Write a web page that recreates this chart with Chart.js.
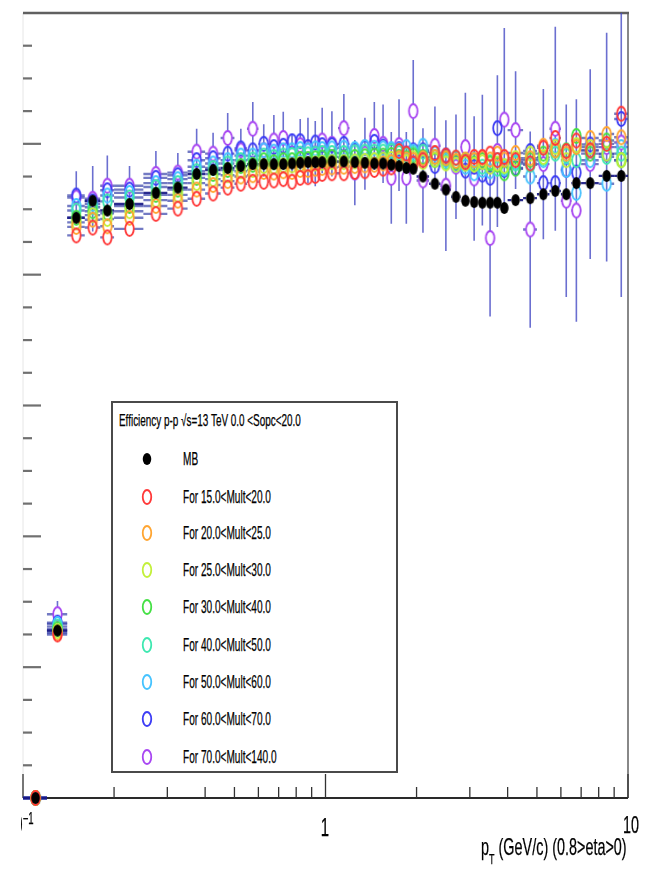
<!DOCTYPE html>
<html>
<head>
<meta charset="utf-8">
<script src="https://cdn.jsdelivr.net/npm/chart.js@4.4.1/dist/chart.umd.min.js"></script>
<style>
  body { margin: 0; background: #fff; }
  #wrap { position: relative; width: 647px; height: 877px; overflow: hidden; }
  #eff { position: absolute; left: 0; top: 0; }
  .txt {
    position: absolute;
    font-family: "Liberation Sans", Arial, Helvetica, sans-serif;
    color: #000;
    white-space: nowrap;
    transform: scaleX(0.6);
    -webkit-text-stroke: 0.25px #000;
  }
  .legend {
    position: absolute;
    left: 111px; top: 401px; width: 287px; height: 372px;
    box-sizing: border-box;
    border: 2px solid #4a4a4a;
    background: #fff;
  }
  .legend svg { position: absolute; }
</style>
</head>
<body>
<div id="wrap">
  <canvas id="eff" width="647" height="877"></canvas>

  <div class="legend" id="legend">
    <span class="txt" style="left:6px; top:9px; font-size:16px; transform:scaleX(0.62); transform-origin:0 50%;">Efficiency p-p &#8730;s=13 TeV 0.0 &lt;Sopc&lt;20.0</span>
  </div>

  <!-- x axis labels -->
  <div style="position:absolute; left:21px; top:808px; width:24px; height:40px; overflow:hidden;">
    <span class="txt" style="left:-15px; top:2px; font-size:25px; transform-origin:0 50%;">10<sup style="font-size:16px; vertical-align:9px;">&#8722;1</sup></span>
  </div>
  <span class="txt" style="left:315px; top:813px; width:20px; text-align:center; font-size:25px; transform-origin:50% 50%;">1</span>
  <span class="txt" style="left:611px; top:811px; width:40px; text-align:center; font-size:24px; transform-origin:50% 50%;">10</span>
  <span class="txt" style="right:20px; top:833px; font-size:24px; transform-origin:100% 50%;">p<sub style="font-size:15px; vertical-align:-9px;">T</sub> (GeV/c) (0.8&gt;eta&gt;0)</span>
</div>

<script>
// pT bins (GeV/c): centres and half widths
const PT_CENTERS = [0.11, 0.13, 0.15, 0.17, 0.19,
  0.225, 0.275, 0.325, 0.375, 0.425, 0.475, 0.525, 0.575, 0.625, 0.675, 0.725, 0.775, 0.825, 0.875, 0.925, 0.975,
  1.05, 1.15, 1.25, 1.35, 1.45, 1.55, 1.65, 1.75, 1.85, 1.95,
  2.1, 2.3, 2.5, 2.7, 2.9, 3.1, 3.3, 3.5, 3.7, 3.9,
  4.25, 4.75, 5.25, 5.75, 6.25, 6.75,
  7.5, 8.5, 9.5];
const PT_HALF_WIDTHS = [0.01, 0.01, 0.01, 0.01, 0.01,
  0.025, 0.025, 0.025, 0.025, 0.025, 0.025, 0.025, 0.025, 0.025, 0.025, 0.025, 0.025, 0.025, 0.025, 0.025, 0.025,
  0.05, 0.05, 0.05, 0.05, 0.05, 0.05, 0.05, 0.05, 0.05, 0.05,
  0.1, 0.1, 0.1, 0.1, 0.1, 0.1, 0.1, 0.1, 0.1, 0.1,
  0.25, 0.25, 0.25, 0.25, 0.25, 0.25,
  0.5, 0.5, 0.5];

// efficiency per multiplicity class
const EFF_MB = [0.0, 0.256, 0.887, 0.913, 0.898,
  0.908, 0.925, 0.933, 0.954, 0.960, 0.963, 0.966, 0.969, 0.969, 0.969, 0.969, 0.970, 0.971, 0.972, 0.972, 0.972,
  0.973, 0.973, 0.972, 0.971, 0.970, 0.970, 0.968, 0.966, 0.963, 0.962,
  0.950, 0.939, 0.930, 0.919, 0.913, 0.911, 0.910, 0.910, 0.910, 0.902,
  0.914, 0.917, 0.923, 0.928, 0.923, 0.940,
  0.940, 0.951, 0.951];
const EFF_M15_20 = [0.0, 0.250, 0.860, 0.872, 0.857,
  0.870, 0.893, 0.901, 0.916, 0.924, 0.933, 0.939, 0.942, 0.942, 0.944, 0.946, 0.942, 0.948, 0.949, 0.951, 0.954,
  0.955, 0.955, 0.957, 0.958, 0.960, 0.962, 0.964, 0.989, 0.985, 0.970,
  0.975, 0.986, 0.982, 0.979, 0.972, 0.980, 0.980, 0.985, 0.975, 0.980,
  0.975, 0.970, 0.994, 1.009, 0.989, 1.005,
  0.990, 1.000, 1.046];
const EFF_M20_25 = [0.0, 0.252, 0.873, 0.884, 0.874,
  0.887, 0.905, 0.913, 0.930, 0.937, 0.943, 0.950, 0.952, 0.957, 0.956, 0.958, 0.957, 0.960, 0.960, 0.962, 0.963,
  0.964, 0.965, 0.966, 0.967, 0.968, 0.970, 0.972, 0.978, 0.976, 0.975,
  0.978, 0.980, 0.978, 0.974, 0.976, 0.975, 0.978, 0.976, 0.985, 0.976,
  0.986, 0.978, 0.997, 0.990, 0.985, 0.995,
  1.009, 1.015, 1.010];
const EFF_M25_30 = [0.0, 0.255, 0.880, 0.891, 0.885,
  0.897, 0.914, 0.922, 0.940, 0.946, 0.952, 0.958, 0.960, 0.966, 0.965, 0.967, 0.967, 0.969, 0.969, 0.970, 0.971,
  0.972, 0.972, 0.973, 0.974, 0.975, 0.976, 0.977, 0.975, 0.972, 0.978,
  0.972, 0.976, 0.970, 0.968, 0.970, 0.968, 0.972, 0.965, 0.970, 0.966,
  0.978, 0.985, 0.980, 0.995, 0.975, 0.998,
  0.995, 0.985, 0.975];
const EFF_M30_40 = [0.0, 0.258, 0.887, 0.897, 0.894,
  0.905, 0.922, 0.930, 0.948, 0.954, 0.960, 0.966, 0.968, 0.975, 0.972, 0.975, 0.975, 0.977, 0.977, 0.978, 0.979,
  0.980, 0.979, 0.980, 0.981, 0.982, 0.982, 0.983, 0.980, 0.978, 0.982,
  0.980, 0.975, 0.978, 0.972, 0.975, 0.970, 0.975, 0.970, 0.968, 0.955,
  0.962, 0.975, 0.985, 0.990, 0.990, 1.012,
  0.985, 1.005, 0.975];
const EFF_M40_50 = [0.0, 0.262, 0.898, 0.903, 0.912,
  0.918, 0.934, 0.940, 0.958, 0.963, 0.970, 0.975, 0.976, 0.982, 0.980, 0.982, 0.983, 0.985, 0.984, 0.985, 0.986,
  0.986, 0.986, 0.987, 0.988, 0.988, 0.988, 0.989, 0.986, 0.983, 0.985,
  0.988, 0.980, 0.972, 0.978, 0.970, 0.975, 0.965, 0.972, 0.962, 0.965,
  0.970, 0.968, 0.978, 0.985, 0.982, 0.975,
  0.990, 0.980, 0.985];
const EFF_M50_60 = [0.0, 0.266, 0.905, 0.908, 0.921,
  0.925, 0.940, 0.946, 0.965, 0.970, 0.975, 0.982, 0.982, 0.990, 0.988, 0.990, 0.990, 0.992, 0.990, 0.993, 0.992,
  0.993, 0.994, 0.992, 0.995, 0.994, 0.993, 0.992, 0.990, 0.995, 0.988,
  0.997, 0.985, 0.975, 0.968, 0.965, 0.955, 0.960, 0.958, 0.975, 0.962,
  0.972, 0.950, 0.975, 0.997, 0.960, 0.925,
  0.975, 0.939, 0.995];
const EFF_M60_70 = [0.0, 0.268, 0.921, 0.912, 0.929,
  0.930, 0.948, 0.952, 0.975, 0.978, 0.985, 0.993, 0.990, 1.000, 0.995, 0.997, 1.004, 1.004, 0.995, 1.002, 0.998,
  0.998, 1.000, 0.990, 0.994, 1.003, 0.996, 0.989, 0.992, 0.985, 0.990,
  0.990, 0.966, 0.982, 0.970, 0.959, 0.965, 0.953, 0.948, 1.024, 0.960,
  0.963, 0.989, 0.940, 0.940, 0.960, 0.956,
  0.999, 0.984, 1.038];
const EFF_M70_140 = [0.0, 0.281, 0.918, 0.916, 0.936,
  0.936, 0.954, 0.956, 0.988, 0.985, 1.009, 0.990, 1.023, 0.990, 1.005, 1.009, 0.985, 0.998, 0.990, 0.985, 1.005,
  1.000, 1.024, 0.956, 0.985, 1.012, 1.000, 0.948, 0.998, 0.948, 1.050,
  0.944, 0.997, 0.936, 0.965, 0.995, 0.947, 0.975, 0.856, 0.989, 1.037,
  1.021, 0.869, 0.969, 1.023, 0.913, 0.898,
  0.969, 0.995, 1.002];
// statistical errors of the highest multiplicity class
const ERR_M70_140 = [0.0, 0.02, 0.04, 0.05, 0.046,
  0.03, 0.035, 0.03, 0.035, 0.032, 0.038, 0.033, 0.041, 0.04, 0.039, 0.04, 0.03, 0.04, 0.05, 0.05, 0.05,
  0.05, 0.052, 0.05, 0.055, 0.052, 0.06, 0.07, 0.07, 0.07, 0.078,
  0.08, 0.06, 0.1, 0.08, 0.083, 0.095, 0.1, 0.12, 0.116, 0.14,
  0.09, 0.15, 0.115, 0.156, 0.147, 0.17,
  0.145, 0.175, 0.236];

const SERIES_LABELS = ['MB', 'For 15.0<Mult<20.0', 'For 20.0<Mult<25.0', 'For 25.0<Mult<30.0',
  'For 30.0<Mult<40.0', 'For 40.0<Mult<50.0', 'For 50.0<Mult<60.0', 'For 60.0<Mult<70.0', 'For 70.0<Mult<140.0'];
const SERIES_VALUES = [EFF_MB, EFF_M15_20, EFF_M20_25, EFF_M25_30, EFF_M30_40, EFF_M40_50, EFF_M50_60, EFF_M60_70, EFF_M70_140];
const SERIES_COLORS = ['#000000', '#ff3838', '#ffa531', '#c3f03a', '#45e045', '#3de8b0', '#45c3ff', '#3c3cf5', '#a846f2'];

const X_MAJOR = [0.1, 1, 10];
const X_MINOR = [0.2, 0.3, 0.4, 0.5, 0.6, 0.7, 0.8, 0.9, 2, 3, 4, 5, 6, 7, 8, 9];

// markers are drawn slightly elongated, like the rest of the figure
const MARK_W = 8.5, MARK_H = 14;
const DOT_W = 8.5, DOT_H = 12;

function ellipseMarker(color, filled, w, h) {
  const c = document.createElement('canvas');
  c.width = Math.ceil(w) + 4;
  c.height = Math.ceil(h) + 4;
  const g = c.getContext('2d');
  g.beginPath();
  g.ellipse(c.width / 2, c.height / 2, w / 2, h / 2, 0, 0, Math.PI * 2);
  if (filled) {
    g.fillStyle = color;
    g.fill();
  } else {
    g.lineWidth = 1.8;
    g.strokeStyle = color;
    g.stroke();
  }
  return c;
}

const datasets = SERIES_VALUES.map((vals, i) => ({
  label: SERIES_LABELS[i],
  data: PT_CENTERS.map((x, j) => ({ x, y: vals[j] })),
  showLine: false,
  pointStyle: ellipseMarker(SERIES_COLORS[i], i === 0, i === 0 ? DOT_W : MARK_W, i === 0 ? DOT_H : MARK_H),
  clip: false,
  xErr: PT_HALF_WIDTHS,
  yErr: i === 8 ? ERR_M70_140 : null,
  barColor: i === 0 ? 'rgba(20,20,130,0.9)' : 'rgba(55,65,170,0.7)',
  halfW: (i === 0 ? DOT_W : MARK_W) / 2,
  halfH: (i === 0 ? DOT_H : MARK_H) / 2,
}));

// ROOT-like frame, inward ticks and error bars, all placed through the chart scales
const rootFrame = {
  id: 'rootFrame',
  beforeDatasetsDraw(chart) {
    const { ctx, chartArea: a, scales: { x, y } } = chart;
    ctx.save();

    // frame
    ctx.lineCap = 'butt';
    ctx.strokeStyle = '#e6e6e6';
    ctx.lineWidth = 1;
    ctx.beginPath(); ctx.moveTo(a.left, a.top); ctx.lineTo(a.left, a.bottom); ctx.stroke();
    ctx.strokeStyle = '#606060';
    ctx.lineWidth = 2.5;
    ctx.beginPath(); ctx.moveTo(a.left, a.top); ctx.lineTo(a.right + 1, a.top); ctx.stroke();
    ctx.lineWidth = 1.5;
    ctx.beginPath(); ctx.moveTo(a.right, a.top); ctx.lineTo(a.right, a.bottom); ctx.stroke();
    ctx.strokeStyle = '#2a2a2a';
    ctx.lineWidth = 2;
    ctx.beginPath(); ctx.moveTo(a.left, a.bottom); ctx.lineTo(a.right, a.bottom); ctx.stroke();

    // x ticks
    ctx.strokeStyle = '#333';
    ctx.lineWidth = 1.3;
    X_MAJOR.concat(X_MINOR).forEach(v => {
      const px = x.getPixelForValue(v);
      const len = X_MAJOR.includes(v) ? 24 : 11;
      ctx.beginPath(); ctx.moveTo(px, a.bottom); ctx.lineTo(px, a.bottom - len); ctx.stroke();
    });

    // y ticks
    ctx.strokeStyle = '#707070';
    ctx.lineWidth = 2.2;
    for (let k = 1; k < 24; k++) {
      const v = k * 0.05;
      const py = y.getPixelForValue(v);
      const len = k % 4 === 0 ? 18 : 9;
      ctx.beginPath(); ctx.moveTo(a.left, py); ctx.lineTo(a.left + len, py); ctx.stroke();
    }

    // error bars, with a gap where the marker sits
    ctx.beginPath();
    ctx.rect(a.left, a.top, a.right - a.left, a.bottom - a.top + 4);
    ctx.clip();
    chart.data.datasets.slice().reverse().forEach(ds => {
      ctx.strokeStyle = ds.barColor;
      ds.data.forEach((p, j) => {
        const px = x.getPixelForValue(p.x);
        const py = y.getPixelForValue(p.y);
        const x0 = x.getPixelForValue(p.x - ds.xErr[j]);
        const x1 = x.getPixelForValue(p.x + ds.xErr[j]);
        ctx.lineWidth = 2.4;
        ctx.beginPath();
        ctx.moveTo(x0, py); ctx.lineTo(Math.max(x0, px - ds.halfW), py);
        ctx.moveTo(Math.min(x1, px + ds.halfW), py); ctx.lineTo(x1, py);
        ctx.stroke();
        if (ds.yErr && ds.yErr[j] > 0) {
          const yt = y.getPixelForValue(p.y + ds.yErr[j]);
          const yb = y.getPixelForValue(p.y - ds.yErr[j]);
          ctx.strokeStyle = 'rgba(65,70,195,0.78)';
          ctx.lineWidth = 1.6;
          ctx.beginPath();
          ctx.moveTo(px, yt); ctx.lineTo(px, Math.min(yb, py - ds.halfH));
          ctx.moveTo(px, py + ds.halfH); ctx.lineTo(px, yb);
          ctx.stroke();
          ctx.strokeStyle = ds.barColor;
        }
      });
    });
    ctx.restore();
  },
};

new Chart(document.getElementById('eff'), {
  type: 'scatter',
  data: { datasets },
  options: {
    responsive: false,
    animation: false,
    devicePixelRatio: 1,
    layout: { padding: { left: 23, top: 13, right: 19, bottom: 79 } },
    scales: {
      x: { type: 'logarithmic', min: 0.1, max: 10, display: false },
      y: { type: 'linear', min: 0, max: 1.2, display: false },
    },
    plugins: {
      legend: { display: false },
      tooltip: { enabled: false },
    },
  },
  plugins: [rootFrame],
});

// legend box entries
const legend = document.getElementById('legend');
const ROW_Y = [459, 497, 533, 570, 607, 645, 682, 719, 757];
SERIES_LABELS.forEach((label, i) => {
  const cy = ROW_Y[i] - 401;
  const w = i === 0 ? DOT_W : MARK_W, h = i === 0 ? DOT_H : MARK_H;
  const svg = document.createElementNS('http://www.w3.org/2000/svg', 'svg');
  svg.setAttribute('width', 16);
  svg.setAttribute('height', 20);
  svg.style.left = (147 - 111 - 2 - 8) + 'px';
  svg.style.top = (cy - 2 - 10) + 'px';
  const e = document.createElementNS('http://www.w3.org/2000/svg', 'ellipse');
  e.setAttribute('cx', 8); e.setAttribute('cy', 10);
  e.setAttribute('rx', w / 2); e.setAttribute('ry', h / 2);
  if (i === 0) {
    e.setAttribute('fill', SERIES_COLORS[i]);
  } else {
    e.setAttribute('fill', 'none');
    e.setAttribute('stroke', SERIES_COLORS[i]);
    e.setAttribute('stroke-width', 1.8);
  }
  svg.appendChild(e);
  legend.appendChild(svg);

  const t = document.createElement('span');
  t.className = 'txt';
  t.textContent = label;
  t.style.fontSize = '18px';
  t.style.lineHeight = '20px';
  t.style.transform = 'scaleX(0.56)';
  t.style.transformOrigin = '0 50%';
  t.style.left = (183 - 111 - 2) + 'px';
  t.style.top = (cy - 2 - 10) + 'px';
  legend.appendChild(t);
});
</script>
</body>
</html>
